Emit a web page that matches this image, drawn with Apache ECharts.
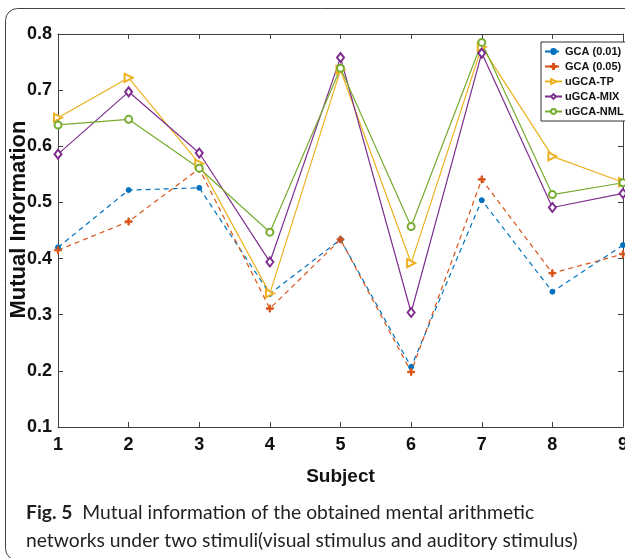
<!DOCTYPE html>
<html>
<head>
<meta charset="utf-8">
<script src="https://cdn.jsdelivr.net/npm/echarts@6/dist/echarts.min.js"></script>
<style>
html, body { margin: 0; padding: 0; background: #fff; }
#container { width: 625px; height: 558px; }
</style>
</head>
<body>
<div id="container"></div>
<script>
var subjects = [1, 2, 3, 4, 5, 6, 7, 8, 9];
var yTicks = [0.1, 0.2, 0.3, 0.4, 0.5, 0.6, 0.7, 0.8];
var gca001 = [0.420, 0.522, 0.526, 0.337, 0.434, 0.207, 0.504, 0.341, 0.424];
var gca005 = [0.415, 0.466, 0.560, 0.311, 0.434, 0.198, 0.541, 0.374, 0.408];
var ugcaTP = [0.651, 0.722, 0.569, 0.338, 0.736, 0.392, 0.777, 0.582, 0.536];
var ugcaMIX = [0.586, 0.697, 0.588, 0.394, 0.758, 0.304, 0.766, 0.491, 0.516];
var ugcaNML = [0.638, 0.648, 0.561, 0.447, 0.739, 0.457, 0.785, 0.514, 0.535];

var narrow = "'Liberation Sans Narrow', 'Liberation Sans', Arial, sans-serif";
var axisColor = '#404040';

function pairs(values) {
    return subjects.map(function (s, i) { return [s, values[i]]; });
}

function makeSeries(name, values, color, dashed, symbol, size, rotate) {
    return {
        name: name,
        type: 'line',
        data: pairs(values),
        symbol: symbol,
        symbolSize: size,
        symbolRotate: rotate || 0,
        showAllSymbol: true,
        lineStyle: { color: color, width: 1.2, type: dashed ? [5, 4] : 'solid' },
        itemStyle: { color: color, borderColor: color, borderWidth: 1 },
        emphasis: { disabled: true }
    };
}

var myChart = echarts.init(document.getElementById('container'));

var option = {
    animation: false,
    title: {
        left: 21,
        top: 494,
        text: '{b|Fig. 5}{n|  Mutual information of the obtained mental arithmetic}\n{n|networks under two stimuli(visual stimulus and auditory stimulus)}',
        textStyle: {
            fontWeight: 'normal',
            rich: {
                b: { fontFamily: 'Lato', fontWeight: 'bold', fontSize: 19.3, color: '#231f20', lineHeight: 28 },
                n: { fontFamily: 'Lato', fontWeight: 'normal', fontSize: 19.3, color: '#231f20', lineHeight: 28 }
            }
        }
    },
    graphic: [
        {
            type: 'rect',
            shape: { x: 5.5, y: 8.5, width: 700, height: 552, r: 12 },
            style: { fill: 'none', stroke: '#444', lineWidth: 1 },
            silent: true
        }
    ],
    legend: {
        orient: 'vertical',
        left: 541,
        top: 42,
        padding: [4, 4, 4, 3],
        itemGap: 4,
        itemWidth: 17,
        itemHeight: 6,
        backgroundColor: '#fff',
        borderColor: '#333',
        borderWidth: 1,
        borderRadius: 0,
        textStyle: { fontFamily: narrow, fontWeight: 'bold', fontSize: 11, color: '#111', padding: [0, 0, 0, -2] },
        data: ['GCA (0.01)', 'GCA (0.05)', 'uGCA-TP', 'uGCA-MIX', 'uGCA-NML']
    },
    grid: { left: 58, right: 2, top: 34, bottom: 131, containLabel: false, outerBoundsMode: 'none' },
    xAxis: [
        {
            type: 'value',
            min: 1, max: 9, interval: 1,
            name: 'Subject',
            nameLocation: 'middle',
            nameGap: 40,
            nameMoveOverlap: false,
            nameTextStyle: { fontFamily: "'Liberation Sans', Arial, sans-serif", fontWeight: 'bold', fontSize: 19, color: '#111' },
            axisLine: { lineStyle: { color: axisColor, width: 1 } },
            axisTick: { inside: true, length: 5, lineStyle: { color: axisColor } },
            axisLabel: { margin: 9, fontFamily: narrow, fontWeight: 'bold', fontSize: 18, color: '#111' },
            splitLine: { show: false }
        },
        {
            type: 'value',
            position: 'top',
            min: 1, max: 9, interval: 1,
            axisLine: { lineStyle: { color: axisColor, width: 1 } },
            axisTick: { inside: true, length: 5, lineStyle: { color: axisColor } },
            axisLabel: { show: false },
            splitLine: { show: false }
        }
    ],
    yAxis: [
        {
            type: 'value',
            min: yTicks[0], max: yTicks[yTicks.length - 1], interval: 0.1,
            name: 'Mutual Information',
            nameLocation: 'middle',
            nameGap: 28,
            nameMoveOverlap: false,
            nameTextStyle: {
                fontFamily: "'Liberation Sans', Arial, sans-serif", fontWeight: 'bold', fontSize: 22, color: '#111',
                padding: [0, 0, 0, 22]
            },
            axisLine: { show: true, lineStyle: { color: axisColor, width: 1 } },
            axisTick: { show: true, inside: true, length: 5, lineStyle: { color: axisColor } },
            axisLabel: {
                margin: 6, fontFamily: narrow, fontWeight: 'bold', fontSize: 18, color: '#111',
                formatter: function (v) { return v.toFixed(1); }
            },
            splitLine: { show: false }
        },
        {
            type: 'value',
            position: 'right',
            min: yTicks[0], max: yTicks[yTicks.length - 1], interval: 0.1,
            axisLine: { show: true, lineStyle: { color: axisColor, width: 1 } },
            axisTick: { show: true, inside: true, length: 5, lineStyle: { color: axisColor } },
            axisLabel: { show: false },
            splitLine: { show: false }
        }
    ],
    series: [
        makeSeries('GCA (0.01)', gca001, '#0072BD', true, 'circle', 5),
        makeSeries('GCA (0.05)', gca005, '#D95319', true, 'path://M4,0H6V4H10V6H6V10H4V6H0V4H4Z', 7),
        makeSeries('uGCA-TP', ugcaTP, '#EDB120', false, 'emptyTriangle', 8, -90),
        makeSeries('uGCA-MIX', ugcaMIX, '#7E2F8E', false, 'emptyDiamond', [7, 9]),
        makeSeries('uGCA-NML', ugcaNML, '#77AC30', false, 'emptyCircle', 7)
    ]
};

myChart.setOption(option);
</script>
</body>
</html>
